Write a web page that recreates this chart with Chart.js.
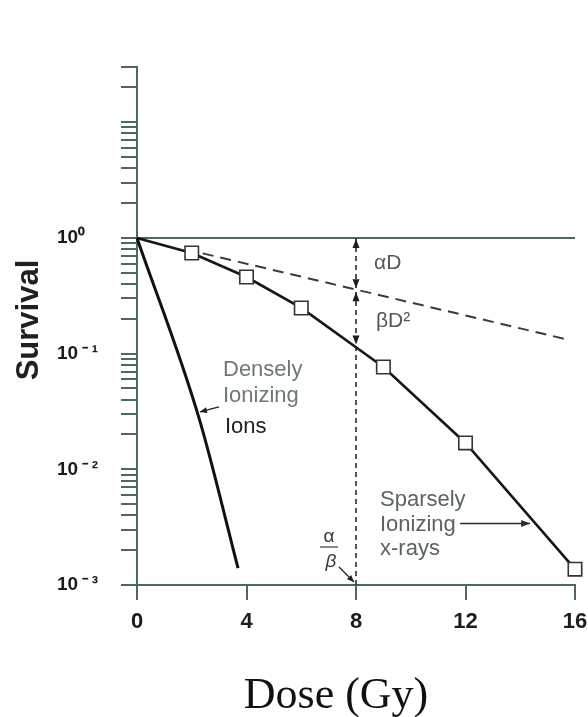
<!DOCTYPE html>
<html>
<head>
<meta charset="utf-8">
<script src="https://cdn.jsdelivr.net/npm/chart.js@4/dist/chart.umd.min.js"></script>
<style>
  html, body { margin: 0; padding: 0; background: #fff; }
  #wrap { width: 588px; height: 717px; position: relative; }
</style>
</head>
<body>
<div id="wrap"><canvas id="c" width="588" height="717"></canvas></div>
<script>
// Cell survival against absorbed dose: densely vs sparsely ionizing radiation

// ---- axis structure ----
const doseTicks = [0, 4, 8, 12, 16];
const decadeValues = [0.001, 0.01, 0.1, 1];
const decadeLabels = ['10\u2009⁻\u2009³', '10\u2009⁻\u2009²', '10\u2009⁻\u2009¹', '10⁰'];
const minorMultipliers = [1, 2, 3, 4, 5, 6, 7, 8, 9];
const upperTicks = [10, 20, 30];

// ---- series ----
const ionDose = [0, 2.28, 3.69];
const ionSurvival = [1, 0.027, 0.0014];

const xrayDose = [0, 2, 4, 6, 9, 12, 16];
const xraySurvival = [1, 0.74, 0.459, 0.248, 0.0766, 0.0169, 0.00137];

// single-hit (alpha) component, exp(-aD)
const alphaDose = [2.4, 15.8];
const alphaSurvival = [0.735, 0.131];

// reference dose where alpha*D = beta*D^2
const markerDose = [8, 8];
const markerSurvival = [1, 0.001];
// survival levels at the marker dose bounding the aD and bD^2 parts
const componentLevels = [1, 0.36, 0.12];

const AXIS = '#4b6a5b';
const INK = '#1c1c1c';
const SANS = '"Liberation Sans", Arial, sans-serif';

const yTicks = [];
decadeValues.forEach(d => minorMultipliers.forEach(m => yTicks.push(+(d * m).toPrecision(3))));
upperTicks.forEach(v => yTicks.push(v));

const pts = (xs, ys) => xs.map((x, i) => ({ x: x, y: ys[i] }));

function arrowHead(ctx, tx, ty, angle, len, half) {
  ctx.save();
  ctx.translate(tx, ty);
  ctx.rotate(angle);
  ctx.beginPath();
  ctx.moveTo(0, 0);
  ctx.lineTo(-len, -half);
  ctx.lineTo(-len, half);
  ctx.closePath();
  ctx.fill();
  ctx.restore();
}

function arrow(ctx, x0, y0, x1, y1, len, half, width) {
  ctx.beginPath();
  ctx.lineWidth = width;
  ctx.moveTo(x0, y0);
  ctx.lineTo(x1, y1);
  ctx.stroke();
  arrowHead(ctx, x1, y1, Math.atan2(y1 - y0, x1 - x0), len, half);
}

const annotations = {
  id: 'annotations',
  afterDatasetsDraw(chart) {
    const { ctx } = chart;
    const xs = chart.scales.x, ys = chart.scales.y;
    ctx.save();

    // component arrows along the marker dose
    const mx = xs.getPixelForValue(markerDose[0]);
    const yTop = ys.getPixelForValue(componentLevels[0]);
    const yMid = ys.getPixelForValue(componentLevels[1]);
    const yBot = ys.getPixelForValue(componentLevels[2]);
    ctx.fillStyle = '#1e1e1e';
    arrowHead(ctx, mx, yTop + 1, -Math.PI / 2, 9, 3.5);
    arrowHead(ctx, mx, yMid - 1, Math.PI / 2, 9, 3.5);
    arrowHead(ctx, mx, yMid + 3, -Math.PI / 2, 9, 3.5);
    arrowHead(ctx, mx, yBot, Math.PI / 2, 9, 3.5);

    ctx.font = '21px ' + SANS;
    ctx.textBaseline = 'middle';
    ctx.textAlign = 'left';
    ctx.fillStyle = '#575757';
    ctx.fillText('αD', mx + 18, (yTop + yMid) / 2);
    ctx.fillText('βD²', mx + 20, (yMid + yBot) / 2 + 4);

    // alpha / beta fraction pointing to the marker dose
    const baseY = ys.getPixelForValue(0.001);
    ctx.fillStyle = '#3a3a3a';
    ctx.textAlign = 'center';
    ctx.font = '19px ' + SANS;
    ctx.fillText('α', mx - 27, baseY - 48);
    ctx.font = 'italic 19px ' + SANS;
    ctx.fillText('β', mx - 25, baseY - 23);
    ctx.strokeStyle = '#3a3a3a';
    ctx.lineWidth = 1.2;
    ctx.beginPath();
    ctx.moveTo(mx - 36, baseY - 38);
    ctx.lineTo(mx - 18, baseY - 38);
    ctx.stroke();
    ctx.fillStyle = '#1e1e1e';
    ctx.strokeStyle = '#1e1e1e';
    arrow(ctx, mx - 17, baseY - 18, mx - 2, baseY - 3, 7, 3, 1.3);

    // densely ionizing label
    ctx.textAlign = 'left';
    ctx.font = '22px ' + SANS;
    ctx.fillStyle = '#6d7a71';
    ctx.fillText('Densely', 223, 370);
    ctx.fillText('Ionizing', 223, 396);
    ctx.fillStyle = '#222';
    ctx.fillText('Ions', 225, 427);
    const dTipX = xs.getPixelForValue(2.3), dTipY = ys.getPixelForValue(0.0313);
    ctx.fillStyle = '#1e1e1e';
    ctx.strokeStyle = '#1e1e1e';
    arrow(ctx, dTipX + 19, dTipY - 5, dTipX, dTipY, 7, 3, 1.3);

    // sparsely ionizing label
    ctx.fillStyle = '#5b635d';
    ctx.fillText('Sparsely', 380, 500);
    ctx.fillText('Ionizing', 380, 525);
    ctx.fillText('x-rays', 380, 549);
    const sTipX = xs.getPixelForValue(14.36), sTipY = ys.getPixelForValue(0.0034);
    ctx.fillStyle = '#2a2a2a';
    ctx.strokeStyle = '#2a2a2a';
    arrow(ctx, sTipX - 70, sTipY, sTipX, sTipY, 9, 3.5, 1.3);

    // axis titles
    ctx.fillStyle = '#202020';
    ctx.save();
    ctx.translate(29, 320);
    ctx.rotate(-Math.PI / 2);
    ctx.textAlign = 'center';
    ctx.textBaseline = 'middle';
    ctx.font = 'bold 31px ' + SANS;
    ctx.fillText('Survival', 0, 0);
    ctx.restore();

    ctx.fillStyle = '#111';
    ctx.textAlign = 'center';
    ctx.textBaseline = 'alphabetic';
    ctx.font = '44px "Liberation Serif", "Times New Roman", serif';
    ctx.fillText('Dose (Gy)', 336, 708);

    ctx.restore();
  }
};

new Chart(document.getElementById('c'), {
  type: 'scatter',
  data: {
    datasets: [
      {
        label: 'Densely ionizing ions',
        data: pts(ionDose, ionSurvival),
        showLine: true,
        cubicInterpolationMode: 'monotone',
        borderColor: '#111',
        borderWidth: 3,
        pointRadius: 0,
        clip: false
      },
      {
        label: 'Sparsely ionizing x-rays',
        data: pts(xrayDose, xraySurvival),
        showLine: true,
        borderColor: '#161616',
        borderWidth: 2.6,
        pointStyle: 'rect',
        pointRadius: xrayDose.map((d, i) => i === 0 ? 0 : 9.5),
        pointBackgroundColor: '#fff',
        pointBorderColor: '#333',
        pointBorderWidth: 1.6,
        clip: false
      },
      {
        label: 'alpha component',
        data: pts(alphaDose, alphaSurvival),
        showLine: true,
        borderColor: '#3a3a3a',
        borderWidth: 2,
        borderDash: [11, 7],
        pointRadius: 0
      },
      {
        label: 'marker',
        data: pts(markerDose, markerSurvival),
        showLine: true,
        borderColor: '#2a2a2a',
        borderWidth: 1.6,
        borderDash: [5, 4],
        pointRadius: 0
      }
    ]
  },
  options: {
    responsive: false,
    animation: false,
    devicePixelRatio: 1,
    events: [],
    layout: { padding: { left: 57, right: 13, top: 67, bottom: 0 } },
    plugins: { legend: { display: false }, tooltip: { enabled: false } },
    scales: {
      x: {
        type: 'linear',
        min: 0,
        max: 16,
        afterBuildTicks: s => { s.ticks = doseTicks.map(v => ({ value: v })); },
        afterFit: s => { s.height = 132; s.paddingLeft = 0; s.paddingRight = 0; },
        border: { color: AXIS, width: 2 },
        grid: { drawOnChartArea: false, tickLength: 15, color: AXIS, lineWidth: 2 },
        ticks: {
          autoSkip: false,
          maxRotation: 0,
          padding: 9,
          color: INK,
          font: { family: SANS, size: 22, weight: 'bold' }
        }
      },
      y: {
        type: 'logarithmic',
        min: 0.001,
        max: 30,
        afterBuildTicks: s => { s.ticks = yTicks.map(v => ({ value: v })); },
        afterFit: s => { s.width = 80; s.paddingTop = 0; s.paddingBottom = 0; },
        border: { color: AXIS, width: 2 },
        grid: {
          drawOnChartArea: true,
          color: c => (c.tick && c.tick.value === 1) ? AXIS : 'rgba(0,0,0,0)',
          tickColor: AXIS,
          tickLength: 16,
          lineWidth: 2
        },
        ticks: {
          autoSkip: false,
          crossAlign: 'far',
          color: INK,
          font: { family: SANS, size: 19, weight: 'bold' },
          callback: v => {
            const i = decadeValues.findIndex(d => Math.abs(d - v) < d * 1e-6);
            return i >= 0 ? decadeLabels[i] : '';
          }
        }
      }
    }
  },
  plugins: [annotations]
});
</script>
</body>
</html>
